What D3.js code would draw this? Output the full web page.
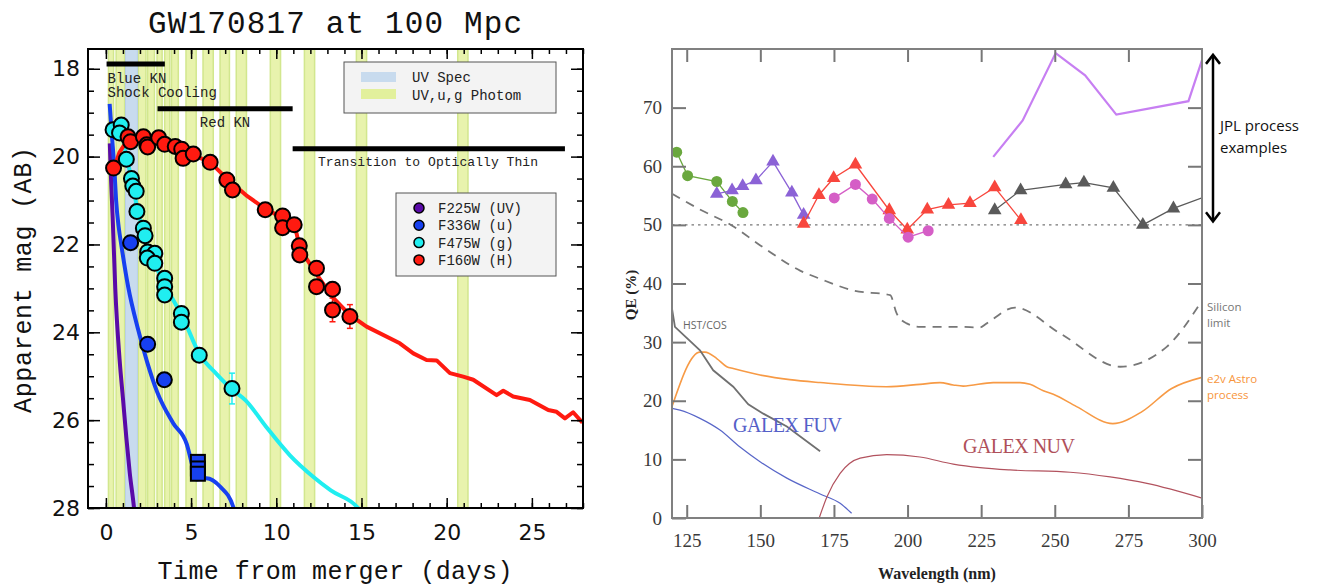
<!DOCTYPE html>
<html lang="en">
<head>
<meta charset="utf-8">
<title>GW170817 at 100 Mpc / UV QE</title>
<script src="https://cdn.jsdelivr.net/npm/d3@7/dist/d3.min.js"></script>
<style>
    body { margin: 0; background: #fff; }
    svg { display: block; }
    .mono { font-family: "Liberation Mono", "DejaVu Sans Mono", monospace; }
    .tick text { font-family: "DejaVu Sans", sans-serif; }
    .qe .tick text { font-family: "Liberation Serif", "DejaVu Serif", serif; fill: #3a3a3a; }
</style>
</head>
<body>
<svg id="fig" width="1327" height="586"></svg>
<script>
    // ---- left panel data (days after merger, AB mag) ----
    var dayTicks = [0, 5, 10, 15, 20, 25];
    var magTicks = [18, 20, 22, 24, 26, 28];

    var photomBands = [[0.15, 0.45], [0.6, 1.1], [1.9, 2.35], [2.45, 2.85], [3.0, 3.3], [3.45, 3.75],
        [3.85, 4.25], [4.7, 5.3], [5.7, 6.3], [6.7, 7.25], [7.65, 8.25], [9.65, 10.25],
        [11.65, 12.25], [14.7, 15.3], [20.65, 21.25]];
    var specBands = [[1.15, 1.85]];

    var phaseNames = ['Blue KN', 'Red KN', 'Transition to Optically Thin'];
    var phaseStart = [0.04, 3.03, 10.96];
    var phaseEnd = [3.46, 10.96, 26.94];
    var phaseMag = [17.89, 18.91, 19.82];

    var uvModel = [[0.23, 19.7], [0.3, 20.5], [0.4, 21.4], [0.55, 23.0], [0.8, 24.6], [1.0, 25.5],
        [1.2, 26.4], [1.4, 27.2], [1.65, 28.0], [1.7, 28.2]];
    var uModel = [[0.22, 18.8], [0.35, 19.5], [0.5, 20.3], [0.6, 21.0], [0.75, 21.6], [0.9, 22.0],
        [1.3, 22.95], [1.9, 23.95], [2.4, 24.65], [3.0, 25.35], [3.95, 26.07], [4.75, 26.55],
        [5.05, 27.0], [5.3, 27.35], [5.9, 27.32], [6.7, 27.51], [7.5, 28.0], [7.6, 28.2]];
    var gModel = [[0.4, 19.3], [0.9, 19.45], [1.2, 20.0], [1.5, 20.5], [1.8, 21.1], [2.2, 21.7],
        [2.6, 22.2], [3.0, 22.55], [3.5, 22.95], [4.0, 23.3], [4.5, 23.65], [5.5, 24.5],
        [6.5, 24.95], [7.4, 25.3], [8.2, 25.55], [9.4, 26.15], [10.8, 26.8], [12.2, 27.3],
        [13.2, 27.6], [14.8, 28.0], [15.0, 28.1]];
    var hModel = [[0.4, 20.35], [0.8, 19.9], [1.3, 19.6], [2.2, 19.52], [3.1, 19.58], [4.0, 19.75],
        [5.0, 19.95], [6.1, 20.12], [7.1, 20.5], [8.3, 20.9], [9.4, 21.2], [10.4, 21.4],
        [11.1, 21.6], [11.4, 22.1], [12.4, 22.7], [13.3, 23.2], [14.3, 23.6], [15.3, 23.87],
        [17.25, 24.25], [18.04, 24.48], [18.82, 24.63], [19.41, 24.64], [20.19, 24.93],
        [20.97, 25.01], [21.56, 25.08], [22.93, 25.43], [23.32, 25.33], [23.9, 25.46],
        [24.88, 25.54], [25.96, 25.77], [26.45, 25.81], [26.94, 25.96], [27.42, 25.82], [27.97, 26.06]];

    // observed points [day, mag, err]
    var gPoints = [[0.42, 19.39], [0.9, 19.28], [0.8, 19.46], [1.2, 20.06], [1.5, 20.5], [1.58, 20.67],
        [1.78, 20.79], [1.82, 21.25], [2.2, 21.63], [2.3, 21.8], [2.45, 22.17], [2.87, 22.2],
        [2.43, 22.31], [2.87, 22.43], [3.45, 22.77], [3.45, 22.96], [3.45, 23.15], [4.43, 23.57],
        [4.43, 23.77], [5.48, 24.52], [7.4, 25.28, 0.35]];
    var hPoints = [[0.45, 20.26], [1.3, 19.55], [1.45, 19.66], [2.2, 19.55], [2.4, 19.73], [2.45, 19.78],
        [3.1, 19.57], [3.45, 19.72], [4.07, 19.77], [4.45, 19.83], [4.53, 20.04], [5.13, 19.94],
        [6.12, 20.13], [7.1, 20.53], [7.43, 20.76], [9.35, 21.21], [10.37, 21.35], [10.37, 21.62],
        [11.05, 21.55], [11.35, 22.03], [11.38, 22.24], [12.36, 22.54], [12.36, 22.96],
        [13.3, 23.02], [13.3, 23.49, 0.27], [14.32, 23.64, 0.27]];
    var uPoints = [[1.45, 21.96], [2.45, 24.27], [3.43, 25.08]];
    var uLimits = [[5.4, 26.95], [5.4, 27.1], [5.4, 27.22]];

    var filterNames = ['F225W (UV)', 'F336W (u)', 'F475W (g)', 'F160W (H)'];
    var filterColors = ['#5a0aa8', '#1740f0', '#20eef0', '#ff1a10'];

    // ---- right panel data (wavelength nm, QE %) ----
    var wlTicks = [125, 150, 175, 200, 225, 250, 275, 300];
    var qeTicks = [0, 10, 20, 30, 40, 50, 60, 70];

    var greenQE = [[121.6, 62.4], [125.3, 58.4], [135.2, 57.4], [140.5, 54.0], [144.1, 52.1]];
    var purpleQE = [[135.2, 55.3], [140.4, 55.9], [144, 56.6], [148.5, 57.6], [154.3, 60.8],
        [160.7, 55.5], [164.7, 51.7]];
    var redQE = [[164.7, 50.2], [169.9, 55.1], [174.9, 58.0], [182.3, 60.3], [193.8, 52.5], [199.9, 49.2],
        [206.7, 52.6], [213.9, 53.4], [221.2, 53.7], [229.6, 56.4], [238.5, 50.8]];
    var magentaQE = [[175.1, 54.6], [182.3, 56.9], [188.0, 54.4], [193.8, 51.1], [200.2, 47.9], [207.0, 49.0]];
    var grayQE = [[229.6, 52.5], [238.4, 55.9], [253.7, 56.9], [259.9, 57.2], [269.9, 56.3],
        [279.9, 50.0], [290.3, 52.8], [300, 54.6]];
    var violetQE = [[229.1, 61.6], [239.1, 67.8], [250.3, 79.3], [260.3, 75.5], [270.9, 68.8],
        [295.4, 71.1], [300, 78.1]];
    var siliconLimit = [[120, 55.3], [130, 52.5], [140.3, 49.9], [150, 46.5], [163.5, 42.2], [170.3, 40.8],
        [181.6, 38.8], [194.1, 38.0], [196.3, 34.9], [199.7, 33.2], [204.3, 32.6], [217.8, 32.6],
        [224.6, 32.5], [226.9, 33.2], [236.5, 35.9], [251.8, 31.5], [272.2, 25.8], [288, 29.2], [299.4, 36.6]];
    var e2vAstro = [[120, 19.0], [129.5, 28.3], [131.2, 28.3], [135.2, 27.2], [138.6, 25.8], [140.8, 25.5],
        [149.9, 24.4], [160, 23.6], [170.3, 23.1], [192.9, 22.4], [204.2, 22.8], [211, 23.1], [215.5, 22.7],
        [218.9, 22.5], [229.1, 23.1], [238.2, 23.1], [241.6, 22.8], [246.1, 21.7], [249.5, 21.1],
        [257.4, 19.0], [269.7, 16.1], [279.5, 18.1], [289.7, 22.1], [300, 24.0]];
    var hstCos = [[120, 35.7], [121, 32.6], [129.5, 28.6], [134, 25.2], [140.8, 22.4], [145.9, 19.4],
        [151, 17.8], [159, 15.6], [170.3, 11.4]];
    var galexFuv = [[120, 18.7], [122.7, 18.4], [129.5, 17.0], [136.3, 15.0], [143.1, 12.1], [149.9, 9.6],
        [159, 6.8], [170.3, 4.1], [177.1, 2.5], [181, 0.8]];
    var galexNuv = [[170, 0], [172.6, 3.6], [177.1, 7.6], [183.9, 10.2], [192.9, 10.8], [204.2, 10.4],
        [215.5, 9.2], [224.6, 8.6], [234.8, 8.2], [255.2, 7.8], [268.8, 7.0], [281.3, 5.9], [300, 3.4]];
    var jplRange = [50.6, 79];

    var svg = d3.select('#fig');

    // ================= left panel =================
    var x = d3.scaleLinear().domain([-1.05, 28]).range([88, 583]);
    var y = d3.scaleLinear().domain([17.55, 28]).range([49, 508]);

    svg.append('clipPath').attr('id', 'clipL').append('rect')
        .attr('x', 88).attr('y', 49).attr('width', 495).attr('height', 459);

    var left = svg.append('g').attr('clip-path', 'url(#clipL)');

    // observing windows
    left.selectAll('rect.photom').data(photomBands).enter().append('rect')
        .attr('class', 'photom')
        .attr('x', function(d) { return x(d[0]); })
        .attr('width', function(d) { return x(d[1]) - x(d[0]); })
        .attr('y', y(17.55)).attr('height', y(28) - y(17.55))
        .attr('fill', '#e8f3ad').attr('stroke', '#d2e78e').attr('stroke-width', 1.5);
    left.selectAll('rect.spec').data(specBands).enter().append('rect')
        .attr('class', 'spec')
        .attr('x', function(d) { return x(d[0]); })
        .attr('width', function(d) { return x(d[1]) - x(d[0]); })
        .attr('y', y(17.55)).attr('height', y(28) - y(17.55))
        .attr('fill', '#c8dbee').attr('stroke', '#b9cfe6');

    // phase bars
    left.selectAll('line.phase').data(phaseNames).enter().append('line')
        .attr('x1', function(d, i) { return x(phaseStart[i]); })
        .attr('x2', function(d, i) { return x(phaseEnd[i]); })
        .attr('y1', function(d, i) { return y(phaseMag[i]); })
        .attr('y2', function(d, i) { return y(phaseMag[i]); })
        .attr('stroke', '#000').attr('stroke-width', 5);

    var lineL = d3.line()
        .x(function(d) { return x(d[0]); })
        .y(function(d) { return y(d[1]); });
    var smoothL = d3.line().curve(d3.curveMonotoneX)
        .x(function(d) { return x(d[0]); })
        .y(function(d) { return y(d[1]); });

    [[uvModel, filterColors[0], smoothL], [uModel, filterColors[1], smoothL],
     [gModel, filterColors[2], smoothL], [hModel, filterColors[3], lineL]].forEach(function(m) {
        left.append('path').attr('d', m[2](m[0]))
            .attr('fill', 'none').attr('stroke', m[1]).attr('stroke-width', 4)
            .attr('stroke-linejoin', 'round');
    });

    // error bars
    function errBars(pts, color) {
        var e = pts.filter(function(d) { return d[2]; });
        var g = left.append('g').attr('stroke', color).attr('stroke-width', 1.5);
        e.forEach(function(d) {
            g.append('line').attr('x1', x(d[0])).attr('x2', x(d[0]))
                .attr('y1', y(d[1] - d[2])).attr('y2', y(d[1] + d[2]));
            [d[1] - d[2], d[1] + d[2]].forEach(function(v) {
                g.append('line').attr('x1', x(d[0]) - 3).attr('x2', x(d[0]) + 3)
                    .attr('y1', y(v)).attr('y2', y(v));
            });
        });
    }
    errBars(gPoints, filterColors[2]);
    errBars(hPoints, filterColors[3]);

    function dots(pts, color) {
        left.append('g').selectAll('circle').data(pts).enter().append('circle')
            .attr('cx', function(d) { return x(d[0]); })
            .attr('cy', function(d) { return y(d[1]); })
            .attr('r', 7.5)
            .attr('fill', color).attr('stroke', '#000').attr('stroke-width', 2);
    }
    dots(gPoints, filterColors[2]);
    dots(hPoints, filterColors[3]);
    dots(uPoints, filterColors[1]);

    left.append('g').selectAll('rect').data(uLimits).enter().append('rect')
        .attr('x', function(d) { return x(d[0]) - 7; })
        .attr('y', function(d) { return y(d[1]) - 7; })
        .attr('width', 14).attr('height', 14)
        .attr('fill', filterColors[1]).attr('stroke', '#000').attr('stroke-width', 2);

    // phase labels
    var labs = svg.append('g').attr('class', 'mono').attr('fill', '#222').attr('font-size', 14);
    labs.append('text').attr('x', x(phaseStart[0]) + 1).attr('y', 83).text('Blue KN');
    labs.append('text').attr('x', x(phaseStart[0]) + 1).attr('y', 97).text('Shock Cooling');
    labs.append('text').attr('x', (x(phaseStart[1]) + x(phaseEnd[1])) / 2).attr('y', 127)
        .attr('text-anchor', 'middle').text('Red KN');
    labs.append('text').attr('x', 428).attr('y', 166).attr('text-anchor', 'middle')
        .attr('font-size', 13).attr('textLength', 220).text(phaseNames[2]);

    // axes, ticks inward
    function minorRange(a, b, s) { return d3.range(a, b + 1e-9, s); }
    var dayMinor = minorRange(0, 28, 1), magMinor = minorRange(18, 28, 0.5);

    svg.append('g').attr('transform', 'translate(0,508)')
        .call(d3.axisBottom(x).tickValues(dayMinor).tickSize(-5).tickFormat(''));
    svg.append('g').attr('transform', 'translate(0,508)')
        .call(d3.axisBottom(x).tickValues(dayTicks).tickSize(-10).tickPadding(16).tickFormat(d3.format('d')));
    svg.append('g').attr('transform', 'translate(0,49)')
        .call(d3.axisTop(x).tickValues(dayMinor).tickSize(-5).tickFormat(''));
    svg.append('g').attr('transform', 'translate(0,49)')
        .call(d3.axisTop(x).tickValues(dayTicks).tickSize(-10).tickFormat(''));
    svg.append('g').attr('transform', 'translate(88,0)')
        .call(d3.axisLeft(y).tickValues(magMinor).tickSize(-6).tickFormat(''));
    svg.append('g').attr('transform', 'translate(88,0)')
        .call(d3.axisLeft(y).tickValues(magTicks).tickSize(-12).tickPadding(8).tickFormat(d3.format('d')));
    svg.append('g').attr('transform', 'translate(583,0)')
        .call(d3.axisRight(y).tickValues(magMinor).tickSize(-6).tickFormat(''));
    svg.append('g').attr('transform', 'translate(583,0)')
        .call(d3.axisRight(y).tickValues(magTicks).tickSize(-12).tickFormat(''));

    svg.selectAll('.tick line').attr('stroke-width', 1.5);
    svg.selectAll('.tick text').attr('font-size', 22).attr('fill', '#111');
    svg.selectAll('.domain').remove();

    svg.append('rect').attr('x', 88).attr('y', 49).attr('width', 495).attr('height', 459)
        .attr('fill', 'none').attr('stroke', '#000').attr('stroke-width', 2);

    // legends
    var leg1 = svg.append('g').attr('class', 'mono').attr('font-size', 14).attr('fill', '#222');
    leg1.append('rect').attr('x', 344).attr('y', 62).attr('width', 212).attr('height', 51)
        .attr('fill', '#f3f3f3').attr('stroke', '#555');
    leg1.append('rect').attr('x', 361).attr('y', 72).attr('width', 35).attr('height', 10).attr('fill', '#c8dbee');
    leg1.append('rect').attr('x', 361).attr('y', 89).attr('width', 35).attr('height', 10).attr('fill', '#e2f09c');
    leg1.append('text').attr('x', 412).attr('y', 82).text('UV Spec');
    leg1.append('text').attr('x', 412).attr('y', 100).text('UV,u,g Photom');

    var leg2 = svg.append('g').attr('class', 'mono').attr('font-size', 14).attr('fill', '#222');
    leg2.append('rect').attr('x', 396).attr('y', 193).attr('width', 160).attr('height', 83)
        .attr('fill', '#f3f3f3').attr('stroke', '#555');
    leg2.selectAll('circle').data(filterNames).enter().append('circle')
        .attr('cx', 419).attr('cy', function(d, i) { return 208 + i * 17.3; }).attr('r', 5)
        .attr('fill', function(d, i) { return filterColors[i]; })
        .attr('stroke', '#000').attr('stroke-width', 1.5);
    leg2.selectAll('text').data(filterNames).enter().append('text')
        .attr('x', 438).attr('y', function(d, i) { return 213 + i * 17.3; }).text(function(d) { return d; });

    // titles
    svg.append('text').attr('class', 'mono').attr('x', 335).attr('y', 33)
        .attr('text-anchor', 'middle').attr('font-size', 31).attr('textLength', 374).attr('fill', '#111')
        .text('GW170817 at 100 Mpc');
    svg.append('text').attr('class', 'mono').attr('x', 335).attr('y', 579)
        .attr('text-anchor', 'middle').attr('font-size', 25).attr('textLength', 355).attr('fill', '#111')
        .text('Time from merger (days)');
    svg.append('text').attr('class', 'mono')
        .attr('transform', 'translate(31,280) rotate(-90)')
        .attr('text-anchor', 'middle').attr('font-size', 25).attr('textLength', 266).attr('fill', '#111')
        .text('Apparent mag (AB)');

    // ================= right panel =================
    var xr = d3.scaleLinear().domain([120, 300]).range([672, 1202]);
    var yr = d3.scaleLinear().domain([0, 80]).range([518, 49]);

    svg.append('clipPath').attr('id', 'clipR').append('rect')
        .attr('x', 672).attr('y', 49).attr('width', 530).attr('height', 469);
    var right = svg.append('g').attr('clip-path', 'url(#clipR)');

    var lineR = d3.line()
        .x(function(d) { return xr(d[0]); })
        .y(function(d) { return yr(d[1]); });
    var smoothR = d3.line().curve(d3.curveMonotoneX)
        .x(function(d) { return xr(d[0]); })
        .y(function(d) { return yr(d[1]); });

    // 50% reference
    right.append('path').attr('d', lineR([[120, 50], [300, 50]]))
        .attr('stroke', '#777').attr('stroke-width', 1.3).attr('stroke-dasharray', '2.5,4').attr('fill', 'none');

    right.append('path').attr('d', smoothR(siliconLimit)).attr('fill', 'none')
        .attr('stroke', '#777').attr('stroke-width', 1.8).attr('stroke-dasharray', '9,7');
    right.append('path').attr('d', smoothR(e2vAstro)).attr('fill', 'none')
        .attr('stroke', '#f79a45').attr('stroke-width', 1.6);
    right.append('path').attr('d', lineR(hstCos)).attr('fill', 'none')
        .attr('stroke', '#707070').attr('stroke-width', 1.8);
    right.append('path').attr('d', smoothR(galexFuv)).attr('fill', 'none')
        .attr('stroke', '#5866c8').attr('stroke-width', 1.2);
    right.append('path').attr('d', smoothR(galexNuv)).attr('fill', 'none')
        .attr('stroke', '#b2525e').attr('stroke-width', 1.2);
    right.append('path').attr('d', lineR(violetQE)).attr('fill', 'none')
        .attr('stroke', '#c77ff2').attr('stroke-width', 2.2);

    function series(pts, color, shape) {
        right.append('path').attr('d', lineR(pts)).attr('fill', 'none')
            .attr('stroke', color).attr('stroke-width', 1.3);
        var sym = d3.symbol().type(shape).size(shape === d3.symbolTriangle ? 80 : 95);
        right.append('g').selectAll('path').data(pts.filter(function(d) { return d[0] < 300; }))
            .enter().append('path')
            .attr('d', sym)
            .attr('transform', function(d) { return 'translate(' + xr(d[0]) + ',' + yr(d[1]) + ')'; })
            .attr('fill', color);
    }
    series(greenQE, '#6aa83e', d3.symbolCircle);
    series(purpleQE, '#8b62d6', d3.symbolTriangle);
    series(grayQE, '#5a5a5a', d3.symbolTriangle);
    series(redQE, '#f8463d', d3.symbolTriangle);
    series(magentaQE, '#d55ec6', d3.symbolCircle);

    // axes, ticks inward, gray frame
    var qe = svg.append('g').attr('class', 'qe');
    qe.append('g').attr('transform', 'translate(0,518)')
        .call(d3.axisBottom(xr).tickValues(wlTicks).tickSize(-13).tickPadding(16).tickFormat(d3.format('d')));
    qe.append('g').attr('transform', 'translate(0,49)')
        .call(d3.axisTop(xr).tickValues(wlTicks.slice(0, -1)).tickSize(-13).tickFormat(''));
    qe.append('g').attr('transform', 'translate(672,0)')
        .call(d3.axisLeft(yr).tickValues(qeTicks).tickSize(-14).tickPadding(10).tickFormat(d3.format('d')));
    qe.append('g').attr('transform', 'translate(1202,0)')
        .call(d3.axisRight(yr).tickValues(qeTicks.slice(1)).tickSize(-14).tickFormat(''));
    qe.selectAll('.domain').remove();
    qe.selectAll('.tick line').attr('stroke', '#777').attr('stroke-width', 2);
    qe.selectAll('.tick text').attr('font-size', 19);

    svg.append('rect').attr('x', 672).attr('y', 49).attr('width', 530).attr('height', 469)
        .attr('fill', 'none').attr('stroke', '#808080').attr('stroke-width', 2);

    // JPL arrow
    var ax = 1213, ya = yr(jplRange[1]), yb = yr(jplRange[0]);
    var arr = svg.append('g').attr('stroke', '#000').attr('stroke-width', 2.5).attr('fill', 'none');
    arr.append('line').attr('x1', ax).attr('x2', ax).attr('y1', ya + 1).attr('y2', yb - 1);
    arr.append('path').attr('d', 'M' + (ax - 7) + ',' + (ya + 9) + 'L' + ax + ',' + ya + 'L' + (ax + 7) + ',' + (ya + 9));
    arr.append('path').attr('d', 'M' + (ax - 7) + ',' + (yb - 9) + 'L' + ax + ',' + yb + 'L' + (ax + 7) + ',' + (yb - 9));

    var ann = svg.append('g').attr('font-family', '"Open Sans", "Noto Sans", sans-serif');
    ann.append('text').attr('x', 1220).attr('y', 131).attr('font-size', 15).attr('fill', '#111').text('JPL process');
    ann.append('text').attr('x', 1220).attr('y', 153).attr('font-size', 15).attr('fill', '#111').text('examples');
    ann.append('text').attr('x', 1207).attr('y', 311).attr('font-size', 11.5).attr('fill', '#777').text('Silicon');
    ann.append('text').attr('x', 1207).attr('y', 327).attr('font-size', 11.5).attr('fill', '#777').text('limit');
    ann.append('text').attr('x', 1207).attr('y', 383).attr('font-size', 11.5).attr('fill', '#f7953b').text('e2v Astro');
    ann.append('text').attr('x', 1207).attr('y', 399).attr('font-size', 11.5).attr('fill', '#f7953b').text('process');
    ann.append('text').attr('x', 683).attr('y', 329).attr('font-size', 10.5).attr('fill', '#666').text('HST/COS');

    var serif = svg.append('g').attr('font-family', '"Liberation Serif", "DejaVu Serif", serif');
    serif.append('text').attr('x', 733).attr('y', 432).attr('font-size', 20).attr('textLength', 109)
        .attr('fill', '#5560c8').text('GALEX FUV');
    serif.append('text').attr('x', 963).attr('y', 453).attr('font-size', 20).attr('textLength', 112)
        .attr('fill', '#b0505a').text('GALEX NUV');
    serif.append('text').attr('x', 937).attr('y', 579).attr('text-anchor', 'middle')
        .attr('font-size', 16).attr('font-weight', 'bold').attr('fill', '#222').text('Wavelength (nm)');
    serif.append('text').attr('transform', 'translate(636,295) rotate(-90)').attr('text-anchor', 'middle')
        .attr('font-size', 15).attr('font-weight', 'bold').attr('fill', '#222').text('QE (%)');
</script>
</body>
</html>
